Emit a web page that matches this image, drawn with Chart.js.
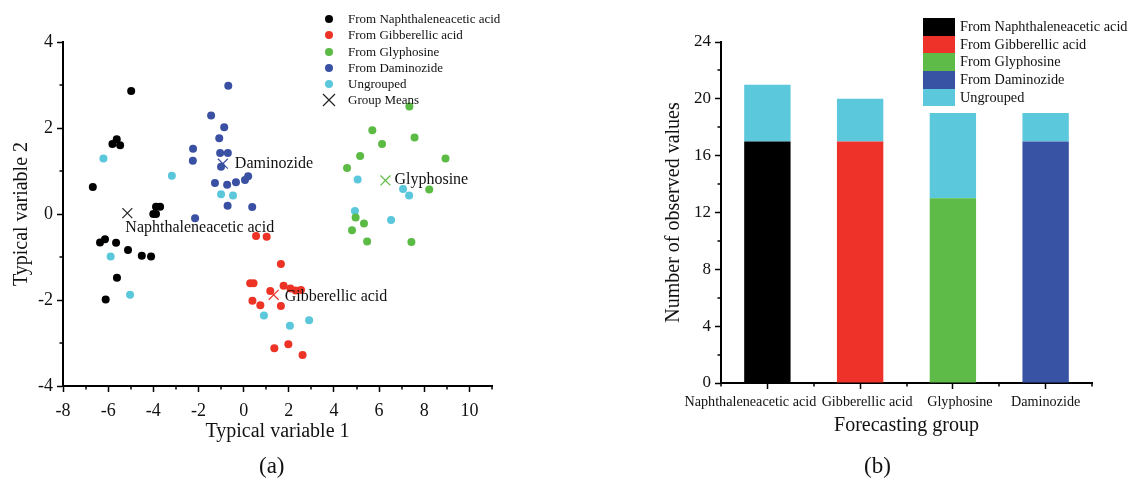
<!DOCTYPE html>
<html>
<head>
<meta charset="utf-8">
<script src="https://cdn.jsdelivr.net/npm/chart.js@4/dist/chart.umd.min.js"></script>
<style>
  body { margin: 0; background: #fff; font-family: "Liberation Serif", serif; }
  #wrap { position: relative; width: 1131px; height: 483px; overflow: hidden; }
  #scatterBox { position: absolute; left: 0; top: 0; width: 560px; height: 483px; }
  #barBox { position: absolute; left: 600px; top: 0; width: 531px; height: 483px; }
  .lg { position: absolute; font-size: 13px; line-height: 16px; color: #111; white-space: nowrap; }
  .lg .row { position: relative; height: 16.3px; padding-left: 26px; }
  .lg .dot { position: absolute; left: 3px; top: 4px; width: 8px; height: 8px; border-radius: 50%; }
  .lg2 { position: absolute; font-size: 14.3px; color: #111; white-space: nowrap; }
  .lg2 .row { position: relative; height: 17.7px; line-height: 17.7px; padding-left: 37px; }
  .lg2 .box { position: absolute; left: 0; top: 0; width: 32px; height: 17.7px; }
  .cap { position: absolute; font-size: 23px; color: #111; }
</style>
</head>
<body>
<div id="wrap">
  <div id="scatterBox"><canvas id="scatterChart"></canvas></div>
  <div id="barBox"><canvas id="barChart"></canvas></div>
  <div class="lg" id="legendA" style="left:322px; top:11px;"></div>
  <div class="lg2" id="legendB" style="left:923px; top:18px;"></div>
  <div class="cap" style="left:259px; top:453px;">(a)</div>
  <div class="cap" style="left:864px; top:453px;">(b)</div>
</div>
<script>
// Punkte aus Bild (a) abgelesen: [Typical variable 1, Typical variable 2]
const naphPts = [[-4.98,2.86],[-5.62,1.74],[-5.81,1.63],[-5.47,1.60],[-6.68,0.63],[-4.00,0.00],[-3.88,0.00],[-3.88,0.17],[-3.70,0.17],
  [-6.36,-0.66],[-6.14,-0.59],[-5.65,-0.67],[-5.12,-0.84],[-4.51,-0.97],[-4.10,-0.99],[-5.61,-1.48],[-6.11,-1.99]];
const gibPts = [[0.55,-0.51],[1.02,-0.53],[1.65,-1.16],[0.29,-1.61],[0.44,-1.61],[1.18,-1.79],[1.77,-1.67],[2.07,-1.73],
  [2.30,-1.78],[2.54,-1.77],[0.39,-2.02],[0.74,-2.12],[1.65,-2.14],[1.36,-3.12],[1.98,-3.03],[2.61,-3.28]];
const glyPts = [[7.34,2.50],[5.70,1.95],[7.57,1.78],[6.13,1.63],[8.94,1.29],[5.16,1.35],[4.58,1.07],[8.22,0.57],
  [4.96,-0.08],[5.33,-0.22],[4.80,-0.38],[5.47,-0.64],[7.43,-0.65]];
const damPts = [[-0.68,2.98],[-1.44,2.29],[-0.86,2.02],[-1.08,1.76],[-2.24,1.52],[-2.25,1.24],[-1.04,1.42],[-0.70,1.42],
  [-1.00,1.10],[-1.27,0.72],[-0.73,0.68],[-0.34,0.74],[0.06,0.79],[0.20,0.88],[-0.71,0.19],[0.38,0.16],[-2.15,-0.10]];
const ungPts = [[-6.21,1.29],[-3.18,0.89],[-1.00,0.46],[-0.47,0.43],[-5.89,-0.99],[-5.03,-1.88],[0.90,-2.36],[2.05,-2.60],
  [2.90,-2.47],[5.05,0.80],[7.06,0.58],[7.33,0.43],[4.93,0.07],[6.53,-0.14]];
const meanPts = [[-5.15,0.02],[1.33,-1.88],[6.28,0.78],[-0.92,1.17]];
const meanLabels = ['Naphthaleneacetic acid', 'Gibberellic acid', 'Glyphosine', 'Daminozide'];
const xTickValues = [-8, -6, -4, -2, 0, 2, 4, 6, 8, 10];

// Bild (b): Anzahl beobachteter Werte je Vorhersagegruppe
const groups = ['Naphthaleneacetic acid', 'Gibberellic acid', 'Glyphosine', 'Daminozide'];
const fromNaph = [17, 0, 0, 0];
const fromGib = [0, 17, 0, 0];
const fromGly = [0, 0, 13, 0];
const fromDam = [0, 0, 0, 17];
const ungrouped = [4, 3, 6, 2];

const seriesNames = ['From Naphthaleneacetic acid', 'From Gibberellic acid', 'From Glyphosine', 'From Daminozide', 'Ungrouped'];
const dotColors = ['#000000', '#ED3326', '#5BBB45', '#3A50A2', '#5BC7DB'];
const barColors = ['#000000', '#EE3129', '#5EBB47', '#3953A4', '#5CC8DB'];

const FONT = 'Liberation Serif';
const toXY = arr => arr.map(p => ({ x: p[0], y: p[1] }));

// kleine Zwischenstriche an den Achsen
const minorTicks = {
  id: 'minorTicks',
  afterDraw(chart, args, opts) {
    const ctx = chart.ctx;
    const sx = chart.scales.x, sy = chart.scales.y;
    ctx.save();
    ctx.strokeStyle = '#000';
    ctx.lineWidth = 1.5;
    ctx.beginPath();
    (opts.x || []).forEach(v => {
      const px = Math.round(sx.getPixelForValue(v));
      ctx.moveTo(px, sx.top); ctx.lineTo(px, sx.top + 3.5);
    });
    (opts.y || []).forEach(v => {
      const py = Math.round(sy.getPixelForValue(v));
      ctx.moveTo(sy.right, py); ctx.lineTo(sy.right - 3.5, py);
    });
    ctx.stroke();
    ctx.restore();
  }
};

// Beschriftung der Gruppenmittelpunkte
const meanText = {
  id: 'meanText',
  afterDatasetsDraw(chart) {
    const ctx = chart.ctx;
    const sx = chart.scales.x, sy = chart.scales.y;
    const offs = [[-2, 15], [11, 2], [9, -1], [12, 0]];
    ctx.save();
    ctx.font = '16px "' + FONT + '"';
    ctx.fillStyle = '#111';
    ctx.textBaseline = 'middle';
    meanPts.forEach((p, i) => {
      ctx.fillText(meanLabels[i], sx.getPixelForValue(p[0]) + offs[i][0], sy.getPixelForValue(p[1]) + offs[i][1]);
    });
    ctx.restore();
  }
};

// Kategorienbeschriftung (b), im Original leicht versetzt damit sie sich nicht überlappen
const groupText = {
  id: 'groupText',
  afterDraw(chart) {
    const ctx = chart.ctx;
    const sx = chart.scales.x;
    const shift = [-17, 7, 7, 0];
    ctx.save();
    ctx.font = '14.2px "' + FONT + '"';
    ctx.fillStyle = '#111';
    ctx.textAlign = 'center';
    ctx.textBaseline = 'middle';
    groups.forEach((g, i) => {
      ctx.fillText(g, sx.getPixelForValue(i) + shift[i], sx.top + 19);
    });
    ctx.restore();
  }
};

const axisCommon = {
  border: { display: true, color: '#000', width: 2 },
  grid: { drawOnChartArea: false, drawTicks: true, tickLength: 6, tickColor: '#000', tickWidth: 1.5 }
};

// Streudiagramm (a)
const scatterSets = [naphPts, gibPts, glyPts, damPts, ungPts].map((pts, i) => ({
  label: seriesNames[i],
  data: toXY(pts),
  backgroundColor: dotColors[i],
  borderWidth: 0,
  pointRadius: 4,
  pointHoverRadius: 4
}));
scatterSets.push({
  label: 'Group Means',
  data: toXY(meanPts),
  pointStyle: 'crossRot',
  pointRadius: 7,
  borderWidth: 1.2,
  borderColor: ['#222222', '#ED3326', '#5BBB45', '#3A50A2'],
  backgroundColor: 'transparent'
});

new Chart(document.getElementById('scatterChart'), {
  type: 'scatter',
  data: { datasets: scatterSets },
  options: {
    responsive: true,
    maintainAspectRatio: false,
    animation: false,
    layout: { padding: { left: 0, top: 42, right: 68, bottom: 35 } },
    plugins: {
      legend: { display: false },
      tooltip: { enabled: false },
      minorTicks: { x: [-7, -5, -3, -1, 1, 3, 5, 7, 9, 11], y: [-3, -1, 1, 3] }
    },
    scales: {
      x: {
        ...axisCommon,
        min: -8, max: 11,
        afterBuildTicks: s => { s.ticks = xTickValues.map(v => ({ value: v })); },
        afterFit: s => { s.height = 62; },
        ticks: { color: '#111', padding: 8, font: { family: FONT, size: 18 } },
        title: { display: true, text: 'Typical variable 1', color: '#111', padding: { top: 0, bottom: 4 }, font: { family: FONT, size: 20 } }
      },
      y: {
        ...axisCommon,
        min: -4, max: 4,
        afterFit: s => { s.width = 63; },
        ticks: { stepSize: 2, color: '#111', padding: 4, font: { family: FONT, size: 18 } },
        title: { display: true, text: 'Typical variable 2', color: '#111', padding: { top: 10, bottom: 0 }, font: { family: FONT, size: 20 } }
      }
    }
  },
  plugins: [minorTicks, meanText]
});

// gestapeltes Balkendiagramm (b)
const barSeries = [fromNaph, fromGib, fromGly, fromDam, ungrouped];
new Chart(document.getElementById('barChart'), {
  type: 'bar',
  data: {
    labels: groups,
    datasets: barSeries.map((vals, i) => ({
      label: seriesNames[i],
      data: vals,
      backgroundColor: barColors[i],
      borderWidth: 0,
      barPercentage: 0.5,
      categoryPercentage: 1.0
    }))
  },
  options: {
    responsive: true,
    maintainAspectRatio: false,
    animation: false,
    layout: { padding: { left: 0, top: 42, right: 39, bottom: 45 } },
    plugins: {
      legend: { display: false },
      tooltip: { enabled: false },
      minorTicks: { x: [-0.5, 0.5, 1.5, 2.5, 3.5], y: [2, 6, 10, 14, 18, 22] }
    },
    scales: {
      x: {
        stacked: true,
        ...axisCommon,
        grid: { ...axisCommon.grid, offset: false },
        afterFit: s => { s.height = 55; },
        ticks: { display: false },
        title: { display: true, text: 'Forecasting group', color: '#111', padding: { top: 0, bottom: 0 }, font: { family: FONT, size: 20 } }
      },
      y: {
        stacked: true,
        ...axisCommon,
        min: 0, max: 24,
        afterFit: s => { s.width = 121; },
        ticks: { stepSize: 4, color: '#111', padding: 4, font: { family: FONT, size: 17 } },
        title: { display: true, text: 'Number of observed values', color: '#111', padding: { top: 62, bottom: 0 }, font: { family: FONT, size: 20 } }
      }
    }
  },
  plugins: [minorTicks, groupText]
});

// Legenden als HTML
const legendA = document.getElementById('legendA');
seriesNames.forEach((name, i) => {
  legendA.innerHTML += '<div class="row"><span class="dot" style="background:' + dotColors[i] + '"></span>' + name + '</div>';
});
legendA.innerHTML += '<div class="row"><svg style="position:absolute;left:0;top:1px" width="14" height="14">' +
  '<path d="M1 1L13 13M13 1L1 13" stroke="#222" stroke-width="1.2"/></svg>Group Means</div>';

const legendB = document.getElementById('legendB');
seriesNames.forEach((name, i) => {
  legendB.innerHTML += '<div class="row"><span class="box" style="background:' + barColors[i] + '"></span>' + name + '</div>';
});
</script>
</body>
</html>
